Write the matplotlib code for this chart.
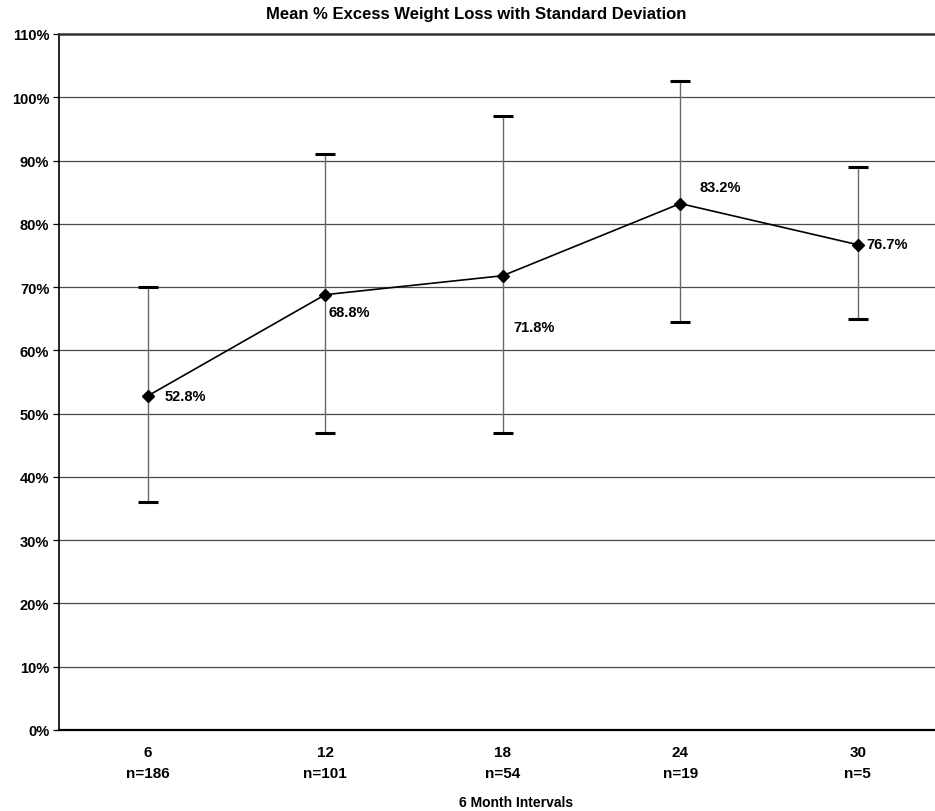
import numpy as np
import matplotlib.pyplot as plt
from matplotlib.ticker import FuncFormatter

plt.rcParams['font.family'] = ['Liberation Sans', 'DejaVu Sans']

# ---------------- data ----------------
months = ["6", "12", "18", "24", "30"]
n_counts = ["n=186", "n=101", "n=54", "n=19", "n=5"]
mean_ewl = [52.8, 68.8, 71.8, 83.2, 76.7]
sd_low = [36.0, 47.0, 47.0, 64.5, 65.0]     # lower end of the bar
sd_high = [70.0, 91.0, 97.0, 102.5, 89.0]   # upper end of the bar

# label offsets (pixels) for the value labels
label_offsets = [(17, 0), (3, -17), (11, -51), (19, 17), (9, 1)]

x = np.arange(1, len(months) + 1)
mean = np.array(mean_ewl)
err = [mean - np.array(sd_low), np.array(sd_high) - mean]

fig = plt.figure(figsize=(9.35, 8.12), dpi=100)
ax = fig.add_axes([59 / 935, 1 - 731 / 812, 887.5 / 935, 696 / 812])

# grid lines
for v in range(10, 110, 10):
    ax.axhline(v, color="#4a4a4a", lw=0.9, zorder=0)

# error bars: grey stems, black caps
ax.errorbar(x, mean, yerr=err, fmt="none", ecolor="#6a6a6a", elinewidth=1.0,
            capsize=0, zorder=2)
ax.errorbar(x, mean, yerr=err, fmt="none", ecolor="black", elinewidth=0,
            capsize=7, capthick=2.2, zorder=3)

ax.plot(x, mean, color="black", lw=1.2, marker="D", markersize=6.5,
        markerfacecolor="black", markeredgecolor="black", zorder=4)

for xi, m, (dx, dy) in zip(x, mean, label_offsets):
    ax.annotate(f"{m:.1f}%", (xi, m), xytext=(dx, dy), textcoords="offset pixels",
                ha="left", va="center", fontsize=10.5, fontweight="bold")

ax.set_xlim(0.5, len(months) + 0.5)
ax.set_ylim(0, 110)
ax.set_yticks(np.arange(0, 111, 10))
ax.yaxis.set_major_formatter(FuncFormatter(lambda v, _: f"{v:.0f}%"))
ax.set_xticks(x)
ax.set_xticklabels([f"{m}\n{n}" for m, n in zip(months, n_counts)],
                   linespacing=1.6)

ax.tick_params(axis="y", length=4, width=0.9, pad=3, labelsize=10.5)
ax.tick_params(axis="x", length=0, pad=11, labelsize=11)
for lbl in ax.get_xticklabels() + ax.get_yticklabels():
    lbl.set_fontweight("bold")

ax.spines["right"].set_visible(False)
ax.spines["left"].set_linewidth(1.2)
ax.spines["bottom"].set_linewidth(1.6)
ax.spines["top"].set_linewidth(1.8)
ax.spines["top"].set_color("#333333")

fig.text(476 / 935, 1 - 15 / 812, "Mean % Excess Weight Loss with Standard Deviation",
         ha="center", va="center", fontsize=12, fontweight="bold")
fig.text(516 / 935, 1 - 803 / 812, "6 Month Intervals",
         ha="center", va="center", fontsize=10, fontweight="bold")

fig.savefig("out.png", dpi=100)
